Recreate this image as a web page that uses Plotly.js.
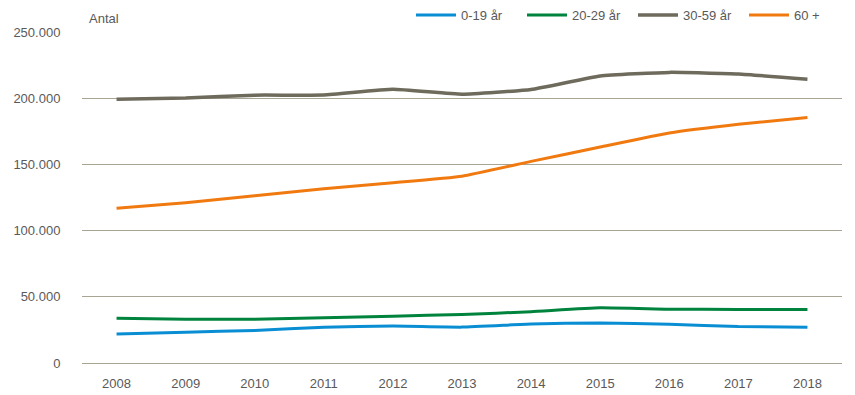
<!DOCTYPE html>
<html>
<head>
<meta charset="utf-8">
<script src="https://cdn.plot.ly/plotly-3.0.1.min.js"></script>
<style>
  html, body { margin: 0; padding: 0; background: #fff; }
  #chart { width: 855px; height: 395px; }
</style>
</head>
<body>
<div id="chart"></div>
<script>
const years = ['2008','2009','2010','2011','2012','2013','2014','2015','2016','2017','2018'];
const age0_19  = [21900, 23300, 24600, 27000, 27900, 27100, 29400, 30300, 29300, 27500, 27000];
const age20_29 = [33800, 33000, 33000, 34100, 35400, 36600, 38800, 41700, 40600, 40500, 40500];
const age30_59 = [199300, 200100, 202300, 202400, 206700, 203000, 206600, 216800, 219500, 218300, 214300];
const age60    = [116800, 121000, 126300, 131600, 136100, 141100, 152300, 163100, 173700, 180300, 185500];
const seriesNames = ['0-19 år', '20-29 år', '30-59 år', '60 +'];
const seriesColors = ['#0A8ED3', '#00843D', '#6E6B5C', '#F07A10'];
const seriesData = [age0_19, age20_29, age30_59, age60];

const traces = seriesData.map((d, i) => ({
  x: years, y: d, type: 'scatter', mode: 'lines', name: seriesNames[i],
  line: { color: seriesColors[i], width: i === 2 ? 3.5 : 3, shape: 'spline', smoothing: 0.4 }
}));

const font = { family: 'Liberation Sans, Arial, sans-serif', size: 13, color: '#595959' };

const layout = {
  width: 855, height: 395,
  margin: { l: 82, r: 13, t: 32, b: 32 },
  paper_bgcolor: '#fff', plot_bgcolor: '#fff',
  font: font,
  separators: ',.',
  showlegend: true,
  legend: {
    orientation: 'h', x: 0.511, xanchor: 'left', y: 1, yref: 'container', yanchor: 'top',
    font: font, itemwidth: 40, traceorder: 'normal',
    entrywidth: 56, entrywidthmode: 'pixels'
  },
  xaxis: {
    type: 'category', range: [-0.5, 10.5], showgrid: false, zeroline: false, showline: false,
    ticks: 'outside', ticklen: 8, tickcolor: 'rgba(0,0,0,0)',
    tickfont: font
  },
  yaxis: {
    range: [0, 250000], tickvals: [0, 50000, 100000, 150000, 200000, 250000],
    tickformat: ',d', showgrid: true, gridcolor: '#A8A594', gridwidth: 1,
    zeroline: true, zerolinecolor: '#A8A594', zerolinewidth: 1, showline: false,
    ticks: 'outside', ticklen: 18, tickcolor: 'rgba(0,0,0,0)',
    tickfont: font
  },
  annotations: [{
    text: 'Antal', xref: 'paper', yref: 'paper', x: 0, y: 1, xanchor: 'left', yanchor: 'bottom',
    xshift: 5, yshift: 4, showarrow: false, font: font
  }]
};

Plotly.newPlot('chart', traces, layout, { staticPlot: true, displayModeBar: false });
</script>
</body>
</html>
